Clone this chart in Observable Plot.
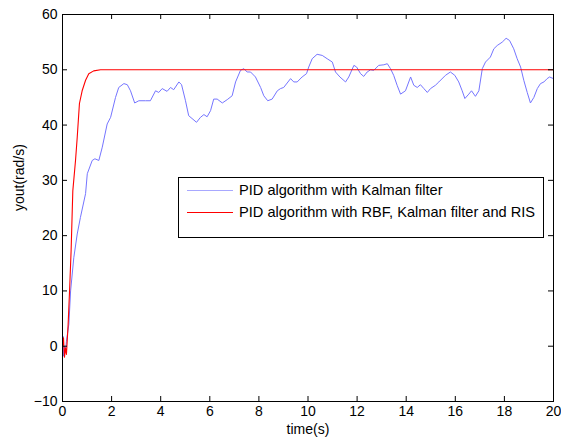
<!DOCTYPE html>
<html>
<head>
<meta charset="utf-8">
<script src="https://cdn.jsdelivr.net/npm/d3@7"></script>
<script src="https://cdn.jsdelivr.net/npm/@observablehq/plot@0.6"></script>
<style>
  html, body { margin: 0; padding: 0; background: #fff; }
  #wrap { position: relative; width: 561px; height: 444px; font-family: "Liberation Sans", Arial, sans-serif; }
  #legend { position: absolute; left: 178px; top: 177px; width: 366px; height: 61px; box-sizing: border-box;
            border: 1px solid #000; background: #fff; font-size: 14.6px; color: #000; }
  .row { position: absolute; left: 8px; height: 16px; display: flex; align-items: center; white-space: nowrap; }
  .row svg { margin-right: 6px; display: block; }
</style>
</head>
<body>
<div id="wrap"></div>
<script>
// Data
const blueT = [0,0.02,0.04,0.08,0.12,0.16,0.26,0.33,0.46,0.60,0.73,0.94,1.01,1.21,1.32,1.48,1.62,1.82,1.96,2.16,2.29,2.50,2.64,2.77,2.94,3.11,3.38,3.58,3.79,3.92,4.06,4.26,4.40,4.53,4.74,4.85,5.01,5.14,5.46,5.62,5.76,5.89,6.03,6.16,6.30,6.51,6.71,6.91,7.05,7.25,7.39,7.52,7.66,7.86,8.07,8.20,8.36,8.54,8.75,8.88,9.01,9.29,9.42,9.56,9.76,9.94,10.03,10.17,10.37,10.58,10.78,10.99,11.12,11.30,11.53,11.66,11.87,11.98,12.14,12.27,12.41,12.55,12.68,12.88,13.09,13.23,13.36,13.49,13.63,13.77,13.97,14.18,14.31,14.45,14.58,14.72,14.86,14.99,15.19,15.33,15.60,15.80,15.98,16.14,16.28,16.39,16.55,16.66,16.82,16.96,17.10,17.23,17.43,17.57,17.71,17.91,18.07,18.21,18.38,18.52,18.66,18.79,18.93,19.06,19.20,19.34,19.47,19.61,19.74,19.84,20.0];
const blueY = [0,1.8,-1.8,0,-0.9,0.9,4.0,10.0,16.0,20.3,23.3,27.6,31.2,33.6,33.9,33.6,36.0,40.2,41.4,45.0,46.8,47.5,47.3,46.2,44.0,44.4,44.4,44.4,46.2,45.9,46.6,46.1,46.8,46.4,47.8,47.3,44.4,41.7,40.5,41.4,41.9,41.5,42.6,44.7,44.7,44.0,44.6,45.3,47.8,49.9,50.2,49.6,49.6,48.7,46.8,45.3,44.4,44.7,46.2,46.6,46.8,48.4,47.8,47.8,48.7,49.3,50.5,52.0,52.8,52.6,52.0,51.4,49.6,48.7,47.8,48.7,50.8,50.5,49.3,48.8,49.6,50.0,49.9,50.8,50.9,51.1,50.2,49.0,47.2,45.6,46.2,48.7,47.2,46.8,47.3,46.6,45.9,46.6,47.2,47.8,49.0,49.6,49.0,47.8,46.2,44.8,45.6,46.2,45.2,46.2,50.2,51.4,52.3,53.8,54.4,55.0,55.7,55.3,53.8,52.0,50.5,48.1,45.9,44.0,45.0,46.6,47.5,47.8,48.4,48.7,48.4];
const redT = [0,0.04,0.08,0.12,0.16,0.23,0.29,0.35,0.42,0.53,0.60,0.69,0.80,0.94,1.07,1.27,1.55,2,4,6,8,10,12,14,16,18,20];
const redY = [0,1.5,-2.0,-0.3,-1.5,4.0,10.3,17.2,28.1,33.6,37.8,43.9,46.2,48.1,49.3,49.8,50,50,50,50,50,50,50,50,50,50,50];
const xTicks = [0,2,4,6,8,10,12,14,16,18,20];
const yTicks = [-10,0,10,20,30,40,50,60];
const seriesNames = ["PID algorithm with Kalman filter", "PID algorithm with RBF, Kalman filter and RIS"];
const seriesColors = ["#7575ff", "#ff0000"];
const xLabel = "time(s)";
const yLabel = "yout(rad/s)";

const blue = blueT.map((t, i) => ({t, y: blueY[i]}));
const red = redT.map((t, i) => ({t, y: redY[i]}));

const W = 561, H = 444, mL = 62, mR = 8, mT = 14, mB = 43;
const innerW = W - mL - mR, innerH = H - mT - mB;
const tk = 5;

const chart = Plot.plot({
  width: W, height: H,
  marginLeft: mL, marginRight: mR, marginTop: mT, marginBottom: mB,
  style: {fontFamily: "'Liberation Sans', Arial, sans-serif", fontSize: "14px", color: "#000", background: "#fff"},
  x: {domain: [0, 20]},
  y: {domain: [-10, 60]},
  marks: [
    Plot.line(blue, {x: "t", y: "y", stroke: seriesColors[0], strokeWidth: 1}),
    Plot.line(red, {x: "t", y: "y", stroke: seriesColors[1], strokeWidth: 1.1}),
    Plot.frame({stroke: "#000", strokeWidth: 1}),
    Plot.tickX(xTicks, {x: d => d, insetTop: innerH - tk, stroke: "#000"}),
    Plot.tickX(xTicks, {x: d => d, insetBottom: innerH - tk, stroke: "#000"}),
    Plot.tickY(yTicks, {y: d => d, insetRight: innerW - tk, stroke: "#000"}),
    Plot.tickY(yTicks, {y: d => d, insetLeft: innerW - tk, stroke: "#000"}),
    Plot.axisX({ticks: xTicks, tickSize: 0, tickPadding: 5, label: null, fill: "#000"}),
    Plot.axisY({ticks: yTicks, tickSize: 0, tickPadding: 5, label: null, fill: "#000"}),
    Plot.text([xLabel], {frameAnchor: "bottom", dy: 32, fill: "#000"}),
    Plot.text([yLabel], {frameAnchor: "left", dx: -43, dy: 3, rotate: -90, fill: "#000"})
  ]
});

const wrap = document.getElementById("wrap");
wrap.appendChild(chart);

const legend = document.createElement("div");
legend.id = "legend";
seriesNames.forEach((name, i) => {
  const row = document.createElement("div");
  row.className = "row";
  row.style.top = (i === 0 ? 4 : 26) + "px";
  row.innerHTML = `<svg width="46" height="3"><line x1="0" x2="46" y1="1.5" y2="1.5" stroke="${i === 0 ? '#a8a8ff' : seriesColors[1]}" stroke-width="1" shape-rendering="crispEdges"/></svg><span>${name}</span>`;
  legend.appendChild(row);
});
wrap.appendChild(legend);
</script>
</body>
</html>
